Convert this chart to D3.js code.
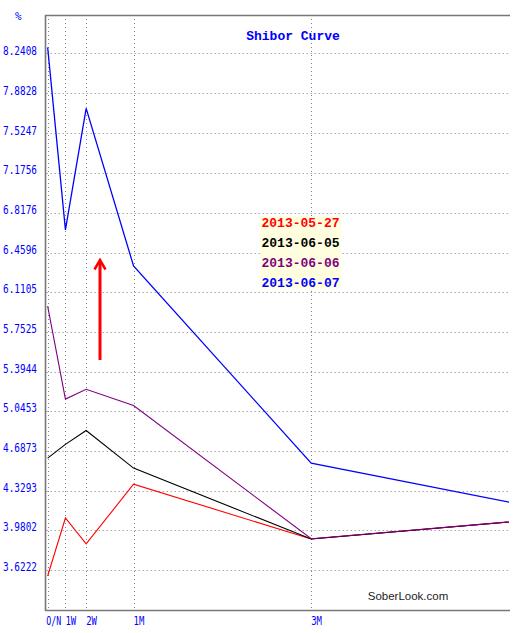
<!DOCTYPE html>
<html>
<head>
<meta charset="utf-8">
<script src="https://cdn.jsdelivr.net/npm/d3@7"></script>
<style>
  html, body { margin: 0; padding: 0; background: #fff; }
  svg { display: block; }
</style>
</head>
<body>
<svg id="chart" width="522" height="633"></svg>
<script>
// ---------- data ----------
const tenors = ["O/N", "1W", "2W", "1M", "3M", "6M"];
const tenorDays = [1, 7, 14, 30, 90, 180];
const seriesNames = ["2013-05-27", "2013-06-05", "2013-06-06", "2013-06-07"];
const seriesColors = ["#ff0000", "#000000", "#800080", "#0000ff"];
const rate_20130527 = [3.568, 4.087, 3.855, 4.389, 3.899, 4.104];
const rate_20130605 = [4.622, 4.745, 4.869, 4.533, 3.899, 4.104];
const rate_20130606 = [5.982, 5.150, 5.237, 5.093, 3.901, 4.104];
const rate_20130607 = [8.294, 6.663, 7.749, 6.341, 4.577, 4.108];
const yTickLabels = ["3.6222", "3.9802", "4.3293", "4.6873", "5.0453", "5.3944", "5.7525",
                     "6.1105", "6.4596", "6.8176", "7.1756", "7.5247", "7.8828", "8.2408"];
const xTickLabels = ["O/N", "1W", "2W", "1M", "3M"];

const allSeries = [rate_20130527, rate_20130605, rate_20130606, rate_20130607];

(function () {
// ---------- layout ----------
const svg = d3.select("#chart");
const pL = 44.7, pR = 509, pT = 15, pB = 610;

const x = d3.scaleLinear().domain([0, 156.8]).range([pL, pR]);
const y = d3.scaleLinear().domain([3.2642, 8.584]).range([pB, pT]);

const gridColor = "#808080";

svg.append("defs").append("clipPath").attr("id", "plotclip")
  .append("rect").attr("x", pL).attr("y", pT).attr("width", pR - pL).attr("height", pB - pT);

// horizontal grid
const yTickVals = yTickLabels.map(Number);
svg.append("g").selectAll("line").data(yTickVals).join("line")
  .attr("x1", pL + 2).attr("x2", pR)
  .attr("y1", d => Math.round(y(d)) + 0.5).attr("y2", d => Math.round(y(d)) + 0.5)
  .attr("stroke", gridColor).attr("stroke-width", 1).attr("stroke-dasharray", "1,3");

// vertical grid
const xTickDays = tenorDays.slice(0, xTickLabels.length);
svg.append("g").selectAll("line").data(xTickDays).join("line")
  .attr("x1", d => Math.round(x(d)) + 0.5).attr("x2", d => Math.round(x(d)) + 0.5)
  .attr("y1", pT + 4).attr("y2", pB)
  .attr("stroke", gridColor).attr("stroke-width", 1).attr("stroke-dasharray", "1,3");

// frame: left, top, bottom
svg.append("line").attr("x1", 45.5).attr("x2", 45.5).attr("y1", pT).attr("y2", pB + 1)
  .attr("stroke", "#777").attr("stroke-width", 1.6);
svg.append("line").attr("x1", 45).attr("x2", pR + 1).attr("y1", pT + 0.5).attr("y2", pT + 0.5)
  .attr("stroke", "#777").attr("stroke-width", 1.6);
svg.append("line").attr("x1", 45).attr("x2", pR + 1).attr("y1", pB + 0.5).attr("y2", pB + 0.5)
  .attr("stroke", "#777").attr("stroke-width", 1.6);

// y tick labels
svg.append("g").selectAll("text").data(yTickLabels).join("text")
  .attr("x", 3).attr("y", d => y(+d) + 1.5)
  .attr("font-family", "'DejaVu Sans Mono', monospace").attr("font-size", 11.5)
  .attr("textLength", 34).attr("lengthAdjust", "spacingAndGlyphs")
  .attr("fill", "#0000ff").text(d => d);

svg.append("text").attr("x", 15).attr("y", 20)
  .attr("font-family", "'DejaVu Sans Mono', monospace").attr("font-size", 11)
  .attr("fill", "#0000ff").text("%");

// x tick labels
svg.append("g").selectAll("text").data(xTickLabels).join("text")
  .attr("x", (d, i) => x(xTickDays[i]) - (i === 0 ? 1.5 : 0)).attr("y", 625)
  .attr("font-family", "'DejaVu Sans Mono', monospace").attr("font-size", 11.5)
  .attr("textLength", (d, i) => i === 0 ? 15 : d.length * 5.4).attr("lengthAdjust", "spacingAndGlyphs")
  .attr("fill", "#0000ff").text(d => d);

// lines
const line = d3.line().x((d, i) => x(tenorDays[i])).y(d => y(d));
const lg = svg.append("g").attr("clip-path", "url(#plotclip)");
allSeries.forEach((s, k) => {
  lg.append("path").datum(s)
    .attr("d", line)
    .attr("fill", "none")
    .attr("stroke", seriesColors[k])
    .attr("stroke-width", k === 3 ? 1.3 : 1.1);
});

// title
svg.append("text").attr("x", 293).attr("y", 40).attr("text-anchor", "middle")
  .attr("font-family", "'Liberation Mono', monospace").attr("font-size", 13).attr("font-weight", "bold")
  .attr("fill", "#0000ff").text("Shibor Curve");

// legend
svg.append("rect").attr("x", 260).attr("y", 216).attr("width", 81).attr("height", 73)
  .attr("fill", "#ffffe0");
svg.append("g").selectAll("text").data(seriesNames).join("text")
  .attr("x", 261.5).attr("y", (d, i) => 227 + i * 20)
  .attr("font-family", "'Liberation Mono', monospace").attr("font-size", 13).attr("font-weight", "bold")
  .attr("fill", (d, i) => seriesColors[i]).text(d => d);

// arrow annotation
svg.append("line").attr("x1", 100).attr("x2", 100).attr("y1", 360).attr("y2", 262)
  .attr("stroke", "#ff0000").attr("stroke-width", 3);
svg.append("polyline").attr("points", "94.5,269.5 100,260 105.5,269.5")
  .attr("fill", "none").attr("stroke", "#ff0000").attr("stroke-width", 2.5);

// watermark
svg.append("text").attr("x", 408).attr("y", 600).attr("text-anchor", "middle")
  .attr("font-family", "'Liberation Sans', Arial, sans-serif").attr("font-size", 11.5)
  .attr("fill", "#222").text("SoberLook.com");
})();
</script>
</body>
</html>
